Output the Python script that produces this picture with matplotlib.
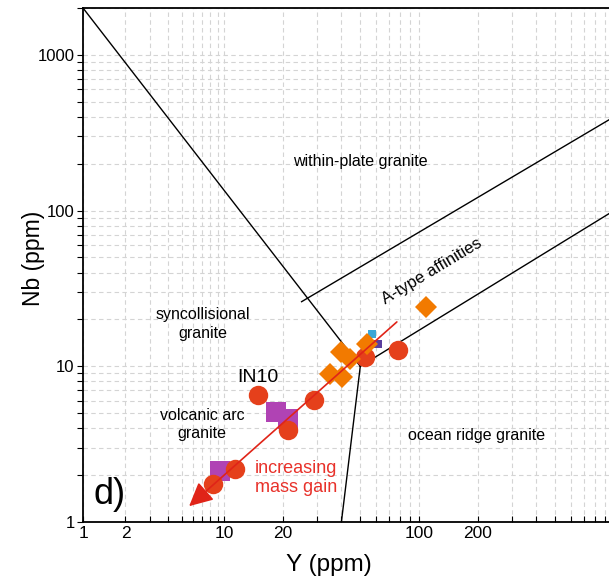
import matplotlib
matplotlib.use("Agg")
import matplotlib.pyplot as plt
from matplotlib.ticker import FixedLocator, NullFormatter
import numpy as np

plt.rcParams["font.family"] = ["Liberation Sans", "DejaVu Sans"]

# ── Samples (Y ppm, Nb ppm) ────────────────────────────────────────────────────
circle_y   = [14.9, 28.9, 21.3, 11.4, 8.4, 52.9, 78.0]
circle_nb  = [6.5, 6.04, 3.87, 2.2, 1.76, 11.4, 12.7]
square_y   = [18.5, 21.3, 9.4]
square_nb  = [5.05, 4.6, 2.13]
diamond_y  = [35.0, 40.3, 39.8, 44.3, 54.1, 108.7]
diamond_nb = [8.88, 8.49, 12.3, 11.1, 13.9, 24.0]
cyan_y,   cyan_nb   = [57.4], [16.1]
violet_y, violet_nb = [61.7], [13.9]

# ── Pearce et al. (1984) field boundaries ─────────────────────────────────────
syn_wpg_y,   syn_wpg_nb   = [1, 50], [2000, 10]
org_wpg_y,   org_wpg_nb   = [50, 1000], [10, 100]
vag_org_y,   vag_org_nb   = [40, 50], [1, 10]
atype_y,     atype_nb     = [25, 1000], [26, 400]

# mass-gain trend (tail -> head)
trend_tail = (78.9, 19.8)
trend_head = (5.47, 1.23)

x_major = [1, 2, 10, 20, 100, 200]
x_minor = [3, 4, 5, 6, 7, 8, 9, 30, 40, 50, 60, 70, 80, 90,
           300, 400, 500, 600, 700, 800, 900]
y_major = [1, 10, 100, 1000]

RED    = "#E5401B"
PURPLE = "#B043B4"
ORANGE = "#F27A00"
TRED   = "#E8312A"
GRID   = "#d4d4d4"

# first decade of the x axis is drawn narrower than the others
A = 141 / 195


def fwd(x):
    lx = np.log10(np.clip(x, 1e-300, None))
    return np.where(lx < 1, lx * A, A + (lx - 1))


def inv(t):
    t = np.asarray(t, dtype=float)
    return np.where(t < A, 10 ** (t / A), 10 ** (t - A + 1))


fig = plt.figure(figsize=(6.09, 5.84), dpi=100)
ax = fig.add_axes([83 / 609, 62 / 584, 531 / 609, 514 / 584])
ax.set_xscale("function", functions=(fwd, inv))
ax.set_yscale("log")
ax.set_xlim(1, 1000)
ax.set_ylim(1, 2000)

ax.xaxis.set_major_locator(FixedLocator(x_major))
ax.xaxis.set_minor_locator(FixedLocator(x_minor))
ax.set_xticklabels([str(v) for v in x_major])
ax.xaxis.set_minor_formatter(NullFormatter())
ax.set_yticks(y_major)
ax.set_yticklabels([str(v) for v in y_major])
ax.yaxis.set_minor_formatter(NullFormatter())

ax.grid(True, which="both", color=GRID, ls=(0, (4, 3)), lw=0.8, zorder=0)
ax.tick_params(axis="x", which="both", direction="in", length=4, width=0.8,
               labelsize=12.5, pad=3)
ax.tick_params(axis="y", which="both", direction="out", length=4, width=0.8,
               labelsize=12, pad=2)
for side in ["left", "bottom", "top"]:
    ax.spines[side].set_linewidth(1.3)
ax.spines["right"].set_visible(False)

# field boundaries
for xs, ys in [(syn_wpg_y, syn_wpg_nb), (org_wpg_y, org_wpg_nb),
               (vag_org_y, vag_org_nb), (atype_y, atype_nb)]:
    ax.plot(xs, ys, color="black", lw=1.0, zorder=2)

# samples
ax.plot(square_y, square_nb, "s", color=PURPLE, ms=14, mew=0, zorder=3)
ax.plot(circle_y, circle_nb, "o", color=RED, ms=14, mew=0, zorder=4)
ax.plot(cyan_y, cyan_nb, "s", color="#3AA6D6", ms=6, mew=0, zorder=4)
ax.plot(violet_y, violet_nb, "s", color="#5A3E9E", ms=6, mew=0, zorder=4)
ax.plot(diamond_y, diamond_nb, "D", color=ORANGE, ms=11, mew=0, zorder=5)

ax.annotate("", xy=trend_head, xytext=trend_tail,
            arrowprops=dict(arrowstyle="-|>,head_length=0.9,head_width=0.45",
                            color="#E02418", lw=1.2, mutation_scale=16),
            zorder=6)

# labels
fs = 11.5
ax.text(49.8, 207, "within-plate granite", fontsize=fs, ha="center", va="center")
ax.text(7.1, 18.7, "syncollisional\ngranite", fontsize=fs, ha="center",
        va="center", linespacing=1.3)
ax.text(7.0, 4.22, "volcanic arc\ngranite", fontsize=fs, ha="center",
        va="center", linespacing=1.3)
ax.text(198, 3.59, "ocean ridge granite", fontsize=fs, ha="center", va="center")
ax.text(116.6, 41, "A-type affinities", fontsize=12, ha="center", va="center",
        rotation=31)
ax.text(14.9, 8.49, "IN10", fontsize=14, ha="center", va="center")
ax.text(23.4, 1.92, "increasing\nmass gain", fontsize=13, ha="center",
        va="center", color=TRED, linespacing=1.15)
ax.text(1.55, 1.51, "d)", fontsize=26, ha="center", va="center")

ax.set_xlabel("Y (ppm)", fontsize=17.5)
ax.set_ylabel("Nb (ppm)", fontsize=16.5)
ax.xaxis.set_label_coords((329 - 83) / 531, -(554 - 522) / 514)
ax.yaxis.set_label_coords(-(83 - 45) / 531, (522 - 258) / 514)

fig.savefig("out.png", dpi=100)
